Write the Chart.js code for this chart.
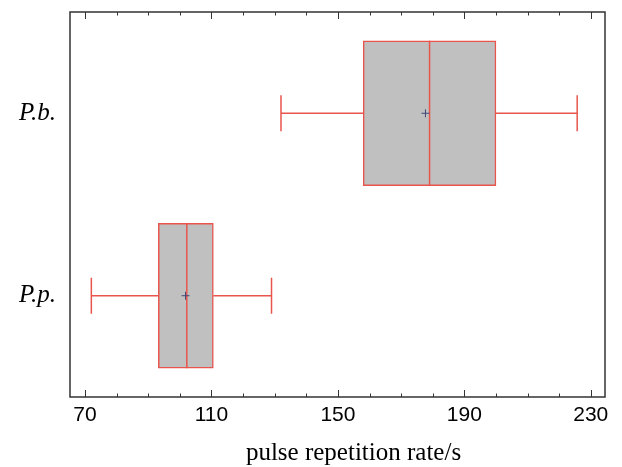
<!DOCTYPE html>
<html>
<head>
<meta charset="utf-8">
<script src="https://cdn.jsdelivr.net/npm/chart.js@4"></script>
<style>
  body { margin: 0; background: #fff; }
</style>
</head>
<body>
<canvas id="grafico" width="622" height="467"></canvas>
<script>
// Especies (de arriba hacia abajo)
const grupos = ["P.b.", "P.p."];
// Resumen de la tasa de repetición de pulsos
const bigoteMin = [132, 72];
const cuartil1 = [158, 93.2];
const mediana = [179, 102.2];
const cuartil3 = [200, 110.6];
const bigoteMax = [225.7, 129];
const media = [177.7, 101.8];
// Marcas del eje x
const ticksX = [70, 110, 150, 190, 230];
const tituloX = "pulse repetition rate/s";

const rojo = "#e8554d";

// Bigotes y mediana, dibujados con las escalas del gráfico
const bigotes = {
  id: "bigotes",
  afterDatasetDraw(chart, args) {
    if (args.index !== 1) return;
    const { ctx, scales: { x, y } } = chart;
    ctx.save();
    ctx.strokeStyle = rojo;
    ctx.lineWidth = 1.5;
    grupos.forEach((g, i) => {
      const py = y.getPixelForValue(i + 1);
      const half = args.meta.data[i].height / 2;
      const xMin = x.getPixelForValue(bigoteMin[i]);
      const xQ1 = x.getPixelForValue(cuartil1[i]);
      const xQ3 = x.getPixelForValue(cuartil3[i]);
      const xMax = x.getPixelForValue(bigoteMax[i]);
      const xMed = x.getPixelForValue(mediana[i]);
      ctx.beginPath();
      ctx.moveTo(xMin, py); ctx.lineTo(xQ1, py);
      ctx.moveTo(xQ3, py); ctx.lineTo(xMax, py);
      ctx.moveTo(xMin, py - 18); ctx.lineTo(xMin, py + 18);
      ctx.moveTo(xMax, py - 18); ctx.lineTo(xMax, py + 18);
      ctx.moveTo(xMed, py - half); ctx.lineTo(xMed, py + half);
      ctx.stroke();
    });
    ctx.restore();
  }
};

// Marco, marcas hacia adentro (arriba y abajo) y título del eje x
const marco = {
  id: "marco",
  afterDraw(chart) {
    const { ctx, chartArea: a, scales: { x } } = chart;
    ctx.save();
    ctx.strokeStyle = "#333";
    ctx.lineWidth = 1.5;
    ctx.strokeRect(a.left, a.top, a.right - a.left, a.bottom - a.top);
    ctx.lineWidth = 1;
    ctx.beginPath();
    for (let v = 70; v <= 230; v += 10) {
      const px = Math.round(x.getPixelForValue(v)) + 0.5;
      const len = ticksX.includes(v) ? 7 : 3.5;
      ctx.moveTo(px, a.bottom); ctx.lineTo(px, a.bottom - len);
      ctx.moveTo(px, a.top); ctx.lineTo(px, a.top + len);
    }
    ctx.stroke();
    ctx.fillStyle = "#000";
    ctx.font = "25px 'Liberation Serif'";
    ctx.textAlign = "center";
    ctx.textBaseline = "alphabetic";
    ctx.fillText(tituloX, (a.left + a.right) / 2 + 16, x.bottom - 7);
    ctx.restore();
  }
};

const ctx = document.getElementById("grafico").getContext("2d");
new Chart(ctx, {
  type: "bar",
  data: {
    datasets: [
      {
        type: "scatter",
        data: grupos.map((g, i) => ({ x: media[i], y: i + 1 })),
        pointStyle: "cross",
        radius: 4,
        borderColor: "#3f4a78",
        borderWidth: 1
      },
      {
        type: "bar",
        indexAxis: "y",
        data: grupos.map((g, i) => ({ y: i + 1, x: [cuartil1[i], cuartil3[i]] })),
        backgroundColor: "#c0c0c0",
        borderColor: rojo,
        borderWidth: 1.5,
        borderSkipped: false,
        barThickness: 145
      }
    ]
  },
  options: {
    responsive: false,
    animation: false,
    layout: { padding: { top: 12, right: 17, left: 0, bottom: 0 } },
    plugins: { legend: { display: false }, tooltip: { enabled: false } },
    scales: {
      x: {
        type: "linear",
        offset: false,
        min: 65.25,
        max: 234.5,
        afterBuildTicks: s => { s.ticks = ticksX.map(v => ({ value: v })); },
        afterFit: s => { s.height = 70; },
        grid: { display: false, drawTicks: false, offset: false },
        border: { display: false },
        ticks: {
          color: "#000",
          padding: 6,
          font: { family: "Liberation Sans", size: 21 }
        }
      },
      y: {
        type: "linear",
        offset: false,
        reverse: true,
        min: 0.445,
        max: 2.555,
        afterBuildTicks: s => { s.ticks = grupos.map((g, i) => ({ value: i + 1 })); },
        afterFit: s => { s.width = 70; s.paddingTop = 0; s.paddingBottom = 0; },
        grid: { display: false, drawTicks: false, offset: false },
        border: { display: false },
        ticks: {
          color: "#000",
          padding: 14,
          callback: v => grupos[v - 1],
          font: { family: "Liberation Serif", style: "italic", size: 25 }
        }
      }
    }
  },
  plugins: [bigotes, marco]
});
</script>
</body>
</html>
